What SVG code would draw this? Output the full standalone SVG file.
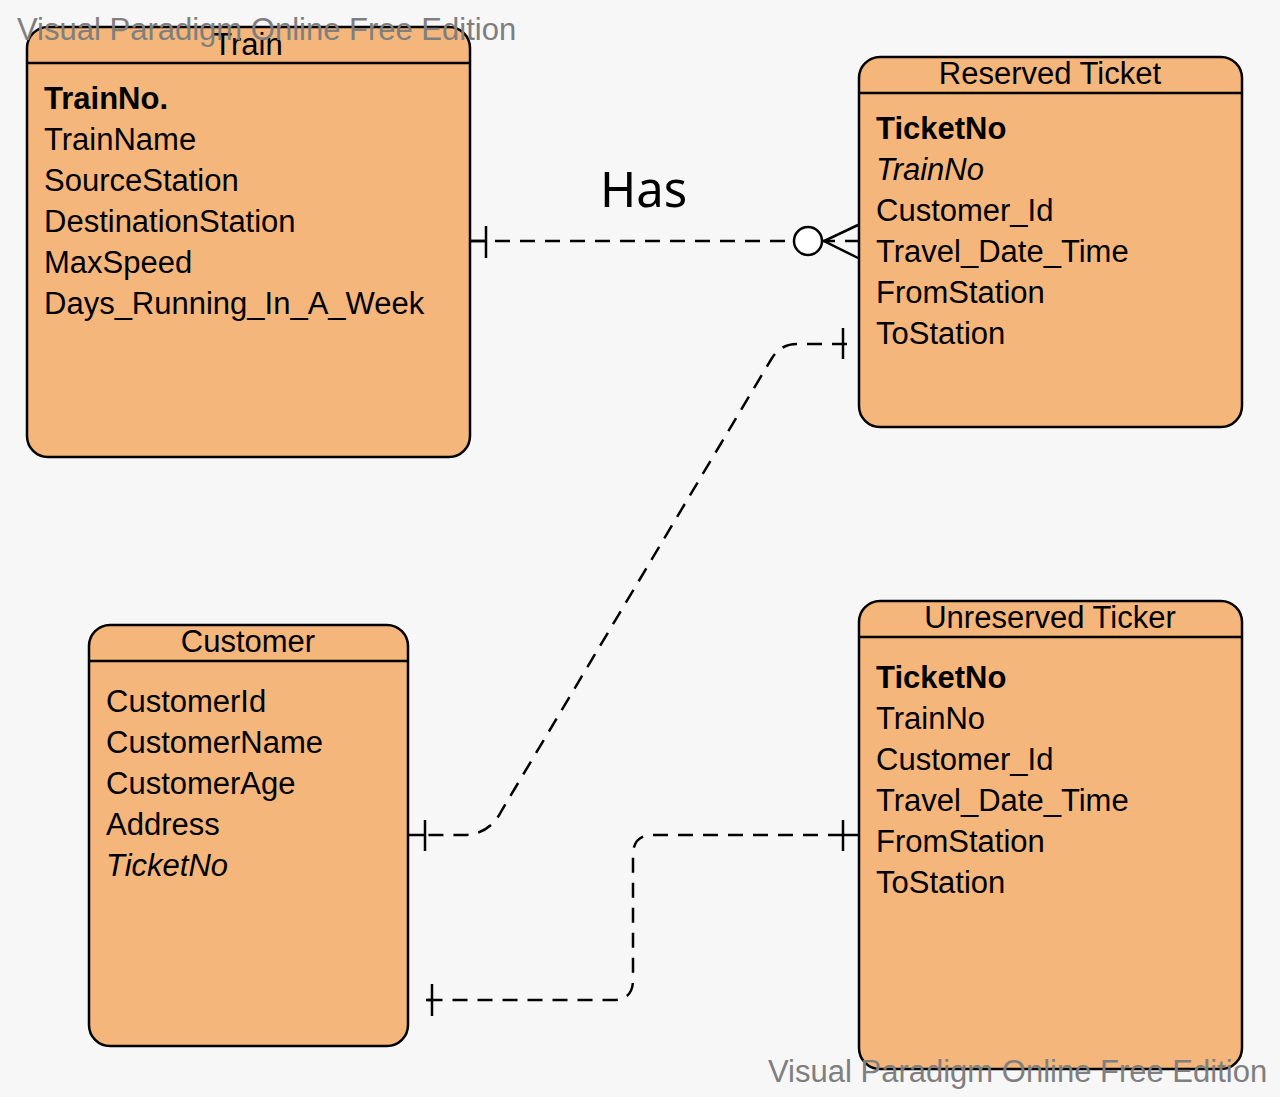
<svg xmlns="http://www.w3.org/2000/svg" width="1280" height="1097" viewBox="0 0 1280 1097">
<style>
.box{fill:#F4B67B;stroke:#000;stroke-width:2.5}
.hdr{stroke:#000;stroke-width:2.5}
.t{font-family:"Liberation Sans",Arial,sans-serif;font-size:31px;fill:#000}
.ttl{text-anchor:middle}
.b{font-weight:bold}
.i{font-style:italic}
.c{fill:none;stroke:#000;stroke-width:2.5;stroke-dasharray:15 10}
.m{fill:none;stroke:#000;stroke-width:2.5}
.wm{font-family:"Liberation Sans",Arial,sans-serif;font-size:31px;fill:#7f7f7f}
</style>
<rect width="1280" height="1097" fill="#F7F7F7"/>
<g id="connectors">
  <g id="train-reserved">
    <path class="c" d="M470 241 H859"/>
    <path class="m" d="M470 241 H486 M486 226 V258"/>
    <circle cx="808" cy="241" r="14" fill="#fff" stroke="#000" stroke-width="2.5"/>
    <path class="m" d="M858 225 L824 241 L858 258"/>
    <text x="600" y="207" style="font-family:'Noto Sans','Open Sans',sans-serif;font-size:49px;fill:#000">Has</text>
  </g>
  <g id="reserved-customer">
    <path class="c" d="M847 344 H797 Q781 344 772 358 L502 810 Q490 834 465 835 H425"/>
    <path class="m" d="M843 328 V359 M408 835 H425 M425 820 V851"/>
  </g>
  <g id="customer-unreserved">
    <path class="c" d="M843 835 H653 Q633 835 633 855 V980 Q633 1000 613 1000 H426"/>
    <path class="m" d="M843 835 H859 M843 820 V851 M432 984 V1016 M426 1000 H432"/>
  </g>
</g>
<g id="train">
  <rect class="box" x="27" y="27" width="443" height="430" rx="21"/>
  <line class="hdr" x1="27" y1="63" x2="470" y2="63"/>
  <text class="t ttl" x="248" y="55">Train</text>
  <text class="t b" x="44" y="109">TrainNo.</text>
  <text class="t" x="44" y="150">TrainName</text>
  <text class="t" x="44" y="191">SourceStation</text>
  <text class="t" x="44" y="232">DestinationStation</text>
  <text class="t" x="44" y="273">MaxSpeed</text>
  <text class="t" x="44" y="314">Days_Running_In_A_Week</text>
</g>
<g id="reserved-ticket">
  <rect class="box" x="859" y="57" width="383" height="370" rx="21"/>
  <line class="hdr" x1="859" y1="93" x2="1242" y2="93"/>
  <text class="t ttl" x="1050" y="84">Reserved Ticket</text>
  <text class="t b" x="876" y="139">TicketNo</text>
  <text class="t i" x="876" y="180">TrainNo</text>
  <text class="t" x="876" y="221">Customer_Id</text>
  <text class="t" x="876" y="262">Travel_Date_Time</text>
  <text class="t" x="876" y="303">FromStation</text>
  <text class="t" x="876" y="344">ToStation</text>
</g>
<g id="customer">
  <rect class="box" x="89" y="625" width="319" height="421" rx="21"/>
  <line class="hdr" x1="89" y1="661" x2="408" y2="661"/>
  <text class="t ttl" x="248" y="652">Customer</text>
  <text class="t" x="106" y="712">CustomerId</text>
  <text class="t" x="106" y="753">CustomerName</text>
  <text class="t" x="106" y="794">CustomerAge</text>
  <text class="t" x="106" y="835">Address</text>
  <text class="t i" x="106" y="876">TicketNo</text>
</g>
<g id="unreserved-ticket">
  <rect class="box" x="859" y="601" width="383" height="468" rx="21"/>
  <line class="hdr" x1="859" y1="637" x2="1242" y2="637"/>
  <text class="t ttl" x="1050" y="628">Unreserved Ticker</text>
  <text class="t b" x="876" y="688">TicketNo</text>
  <text class="t" x="876" y="729">TrainNo</text>
  <text class="t" x="876" y="770">Customer_Id</text>
  <text class="t" x="876" y="811">Travel_Date_Time</text>
  <text class="t" x="876" y="852">FromStation</text>
  <text class="t" x="876" y="893">ToStation</text>
</g>
<g id="watermarks">
  <text class="wm" x="17" y="40">Visual Paradigm Online Free Edition</text>
  <text class="wm" x="768" y="1082">Visual Paradigm Online Free Edition</text>
</g>
</svg>
